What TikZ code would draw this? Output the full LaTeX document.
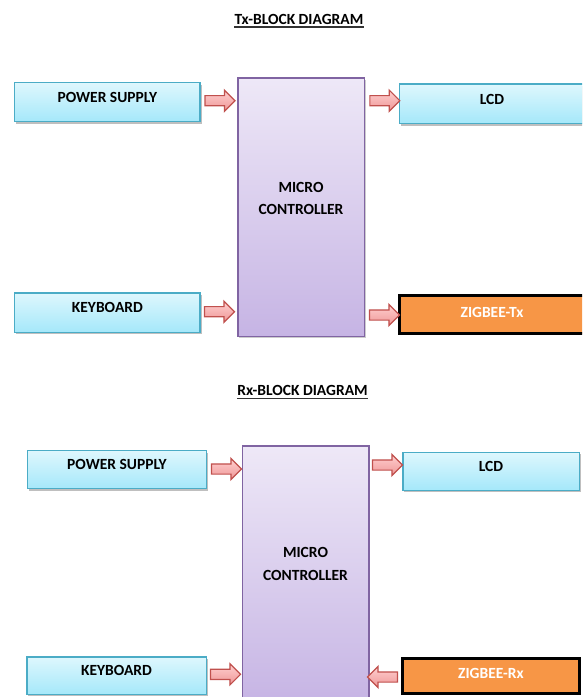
\documentclass[tikz,border=0pt]{standalone}
\usepackage{fontspec}
\setmainfont{Carlito}
\usetikzlibrary{positioning,calc,shapes.arrows,shadows}
\definecolor{BlueTop}{RGB}{222,247,253}
\definecolor{BlueBot}{RGB}{165,232,250}
\definecolor{BlueLine}{RGB}{75,172,198}
\definecolor{McuTop}{RGB}{238,232,247}
\definecolor{McuBot}{RGB}{198,180,228}
\definecolor{McuLine}{RGB}{128,100,162}
\definecolor{ArrTop}{RGB}{255,208,208}
\definecolor{ArrBot}{RGB}{238,150,150}
\definecolor{ArrLine}{RGB}{192,80,77}
\definecolor{ZbOrange}{RGB}{247,150,70}
\tikzset{blk/.style={rectangle,inner sep=0pt,font=\fontsize{15.5}{18}\selectfont\bfseries,text height=10pt,text depth=9.5pt},
bluebox/.style={blk,draw=BlueLine,line width=1.5pt,top color=BlueTop,bottom color=BlueBot,drop shadow={shadow xshift=1.5pt,shadow yshift=-2pt,fill=black,opacity=.25}},
mcubox/.style={rectangle,draw=McuLine,line width=1.5pt,top color=McuTop,bottom color=McuBot,minimum width=126.5pt,minimum height=258.5pt,drop shadow={shadow xshift=1.5pt,shadow yshift=-2pt,fill=black,opacity=.2}},
zbbox/.style={blk,draw=black,line width=3pt,fill=ZbOrange,text=white,text depth=4.2pt},
mcutxt/.style={font=\fontsize{15.5}{22.3}\selectfont\bfseries,align=center,inner sep=0pt},
ttl/.style={font=\fontsize{15.5}{18}\selectfont\bfseries,inner sep=0pt},
ulin/.style={draw=black!80,line width=1.2pt},
blockarrow/.style={single arrow,draw=ArrLine,line width=1.2pt,top color=ArrTop,bottom color=ArrBot,single arrow head extend=5.5pt,minimum height=30pt,inner sep=0pt,text height=9pt,text depth=0pt}}

\begin{document}
\begin{tikzpicture}[x=1pt,y=-1pt]
\useasboundingbox (0,0) rectangle (582,697);
\clip (0,0) rectangle (582,697);
% transmitter
\node[ttl] (ttx) at (299,19.3) {Tx-BLOCK DIAGRAM};
\draw[ulin] ([yshift=-2.7pt]ttx.base west) -- ([yshift=-2.7pt]ttx.base east);
\node[bluebox,minimum width=185.5pt,minimum height=39pt] (tps) at (107.4,102.2) {POWER SUPPLY};
\node[bluebox,minimum width=185.5pt,minimum height=39.5pt] (tkb) at (107.4,312.5) {KEYBOARD};
\node[mcubox] (tmcu) at (301,207) {};
\node[mcutxt] (tmcutxt) at (301,198.7) {MICRO\\CONTROLLER};
\node[bluebox,minimum width=185pt,minimum height=39.5pt] (tlcd) at (492,103.8) {LCD};
\node[zbbox,minimum width=184.4pt,minimum height=38pt] (tzb) at (492,314.5) {ZIGBEE-Tx};
\node[blockarrow] (tpsarr) at (217.5,100.7) {};
\node[blockarrow] (tlcdarr) at (382.3,100.7) {};
\node[blockarrow] (tkbarr) at (217,311.7) {};
\node[blockarrow] (tzbarr) at (382,315) {};
% receiver
\node[ttl] (trx) at (302.5,390.5) {Rx-BLOCK DIAGRAM};
\draw[ulin] ([yshift=-2.7pt]trx.base west) -- ([yshift=-2.7pt]trx.base east);
\node[bluebox,minimum width=179pt,minimum height=38pt] (rps) at (117,469.7) {POWER SUPPLY};
\node[bluebox,minimum width=179.5pt,minimum height=37.5pt] (rkb) at (116.5,675.5) {KEYBOARD};
\node[mcubox] (rmcu) at (305.7,575) {};
\node[mcutxt] (rmcutxt) at (305.5,564) {MICRO\\CONTROLLER};
\node[bluebox,minimum width=176.5pt,minimum height=38pt] (rlcd) at (491,471.3) {LCD};
\node[zbbox,minimum width=177.3pt,minimum height=35pt] (rzb) at (490.9,676) {ZIGBEE-Rx};
\node[blockarrow] (rpsarr) at (224,469) {};
\node[blockarrow] (rlcdarr) at (385,465) {};
\node[blockarrow] (rkbarr) at (223,674.3) {};
\node[blockarrow,shape border rotate=180] (rzbarr) at (385,677) {};
\end{tikzpicture}
\end{document}
